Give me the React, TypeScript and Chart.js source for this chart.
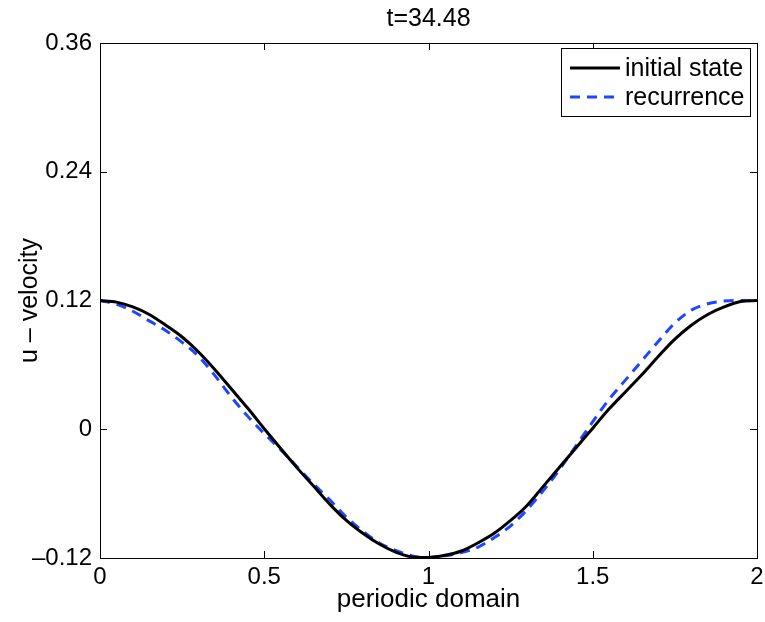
import React, { useEffect, useRef } from "react";
import { Chart, registerables } from "chart.js";

Chart.register(...registerables);

const titleText = "t=34.48";
const xLabel = "periodic domain";
const yLabel = "u \u2013 velocity";
const seriesNames = ["initial state", "recurrence"];
const xTicks = [0, 0.5, 1, 1.5, 2];
const yTicks = [-0.12, 0, 0.12, 0.24, 0.36];

const xs = [
  0, 0.05, 0.1, 0.15, 0.2, 0.25, 0.3, 0.35, 0.4, 0.45, 0.5, 0.55, 0.6, 0.65, 0.7, 0.75, 0.8, 0.85, 0.9, 0.95,
  1.0, 1.05, 1.1, 1.15, 1.2, 1.25, 1.3, 1.35, 1.4, 1.45, 1.5, 1.55, 1.6, 1.65, 1.7, 1.75, 1.8, 1.85, 1.9, 1.95, 2.0,
];

const initialState = [
  0.12, 0.1185, 0.114, 0.107, 0.097, 0.086, 0.072, 0.0555, 0.0375, 0.0195, 0.0005, -0.018, -0.036, -0.053, -0.07,
  -0.085, -0.097, -0.107, -0.1145, -0.119, -0.1195, -0.1175, -0.1135, -0.106, -0.097, -0.085, -0.071, -0.053,
  -0.035, -0.017, 0.001, 0.019, 0.035, 0.051, 0.068, 0.084, 0.097, 0.107, 0.114, 0.119, 0.12,
];

const recurrence = [
  0.12, 0.1165, 0.11, 0.101, 0.092, 0.081, 0.068, 0.05, 0.03, 0.012, -0.004, -0.019, -0.035, -0.051, -0.066,
  -0.082, -0.095, -0.106, -0.113, -0.118, -0.1195, -0.118, -0.115, -0.11, -0.101, -0.09, -0.075, -0.057, -0.037,
  -0.015, 0.007, 0.028, 0.046, 0.064, 0.082, 0.099, 0.111, 0.117, 0.1195, 0.12, 0.12,
];

const FONT = "'Liberation Sans', Arial, Helvetica, sans-serif";
const BLUE = "#1f45ff";

const framePlugin = {
  id: "frame",
  afterDraw(chart: any) {
    const { ctx, chartArea: a, scales } = chart;
    const xs_ = scales.x;
    const ys_ = scales.y;
    ctx.save();
    ctx.strokeStyle = "#000";
    ctx.lineWidth = 1;
    ctx.strokeRect(a.left + 0.5, a.top + 0.5, a.right - a.left, a.bottom - a.top);
    const tl = 7;
    ctx.beginPath();
    xTicks.forEach((v) => {
      const px = Math.round(xs_.getPixelForValue(v)) + 0.5;
      ctx.moveTo(px, a.bottom);
      ctx.lineTo(px, a.bottom - tl);
      ctx.moveTo(px, a.top);
      ctx.lineTo(px, a.top + tl);
    });
    yTicks.forEach((v) => {
      const py = Math.round(ys_.getPixelForValue(v)) + 0.5;
      ctx.moveTo(a.left, py);
      ctx.lineTo(a.left + tl, py);
      ctx.moveTo(a.right, py);
      ctx.lineTo(a.right - tl, py);
    });
    ctx.stroke();

    // title
    ctx.fillStyle = "#000";
    ctx.font = `25px ${FONT}`;
    ctx.textAlign = "center";
    ctx.textBaseline = "middle";
    ctx.fillText(titleText, (a.left + a.right) / 2, 19);

    // legend
    const lx = 561, ly = 48, lw = 189, lh = 68;
    ctx.fillStyle = "#fff";
    ctx.fillRect(lx, ly, lw, lh);
    ctx.strokeStyle = "#000";
    ctx.lineWidth = 1;
    ctx.strokeRect(lx + 0.5, ly + 0.5, lw, lh);
    ctx.font = `25px ${FONT}`;
    const rows = [ly + 20, ly + 49];
    chart.data.datasets.forEach((ds: any, i: number) => {
      ctx.beginPath();
      ctx.strokeStyle = ds.borderColor;
      ctx.lineWidth = ds.borderWidth;
      ctx.setLineDash(ds.borderDash || []);
      ctx.moveTo(lx + 9, rows[i]);
      ctx.lineTo(lx + 59, rows[i]);
      ctx.stroke();
      ctx.setLineDash([]);
      ctx.fillStyle = "#000";
      ctx.textAlign = "left";
      ctx.fillText(ds.label, lx + 64, rows[i] + 1);
    });
    ctx.restore();
  },
};

export default function App() {
  const ref = useRef<HTMLCanvasElement>(null);
  useEffect(() => {
    if (!ref.current) return;
    const chart = new Chart(ref.current, {
      type: "line",
      data: {
        datasets: [
          {
            label: seriesNames[0],
            data: xs.map((x, i) => ({ x, y: initialState[i] })),
            borderColor: "#000",
            borderWidth: 3,
            pointRadius: 0,
            cubicInterpolationMode: "monotone",
            fill: false,
          },
          {
            label: seriesNames[1],
            data: xs.map((x, i) => ({ x, y: recurrence[i] })),
            borderColor: BLUE,
            borderWidth: 3,
            borderDash: [10, 7],
            pointRadius: 0,
            cubicInterpolationMode: "monotone",
            fill: false,
          },
        ],
      },
      options: {
        animation: false,
        responsive: false,
        maintainAspectRatio: false,
        layout: { padding: { top: 43, right: 8, left: 0, bottom: 0 } },
        plugins: { legend: { display: false }, title: { display: false }, tooltip: { enabled: false } },
        scales: {
          x: {
            type: "linear",
            min: 0,
            max: 2,
            afterBuildTicks: (s: any) => {
              s.ticks = xTicks.map((v) => ({ value: v }));
            },
            afterFit: (s: any) => {
              s.height = 64;
              s.paddingLeft = 0;
              s.paddingRight = 0;
            },
            grid: { display: false, drawTicks: false },
            border: { display: false },
            ticks: {
              color: "#000",
              font: { family: FONT, size: 24 },
              padding: 5,
              maxRotation: 0,
              callback: (v: any) => String(v),
            },
            title: {
              display: true,
              text: xLabel,
              color: "#000",
              font: { family: FONT, size: 26 },
              padding: { bottom: 7, top: 0 },
            },
          },
          y: {
            type: "linear",
            min: -0.12,
            max: 0.36,
            afterBuildTicks: (s: any) => {
              s.ticks = yTicks.map((v) => ({ value: v }));
            },
            afterFit: (s: any) => {
              s.width = 100;
              s.paddingTop = 0;
              s.paddingBottom = 0;
            },
            grid: { display: false, drawTicks: false },
            border: { display: false },
            ticks: {
              color: "#000",
              font: { family: FONT, size: 24 },
              padding: 8,
              callback: (v: any) => {
                const n = Number(v);
                if (Math.abs(n) < 1e-9) return "0";
                return (n < 0 ? "\u2013" : "") + Math.abs(n).toFixed(2);
              },
            },
            title: {
              display: true,
              text: yLabel,
              color: "#000",
              font: { family: FONT, size: 25 },
              padding: { top: 15, bottom: 0 },
            },
          },
        },
      },
      plugins: [framePlugin],
    });
    return () => chart.destroy();
  }, []);
  return (
    <div style={{ position: "absolute", left: 0, top: 0, width: 765, height: 622, background: "#fff" }}>
      <canvas ref={ref} width={765} height={622} style={{ width: 765, height: 622 }} />
    </div>
  );
}
